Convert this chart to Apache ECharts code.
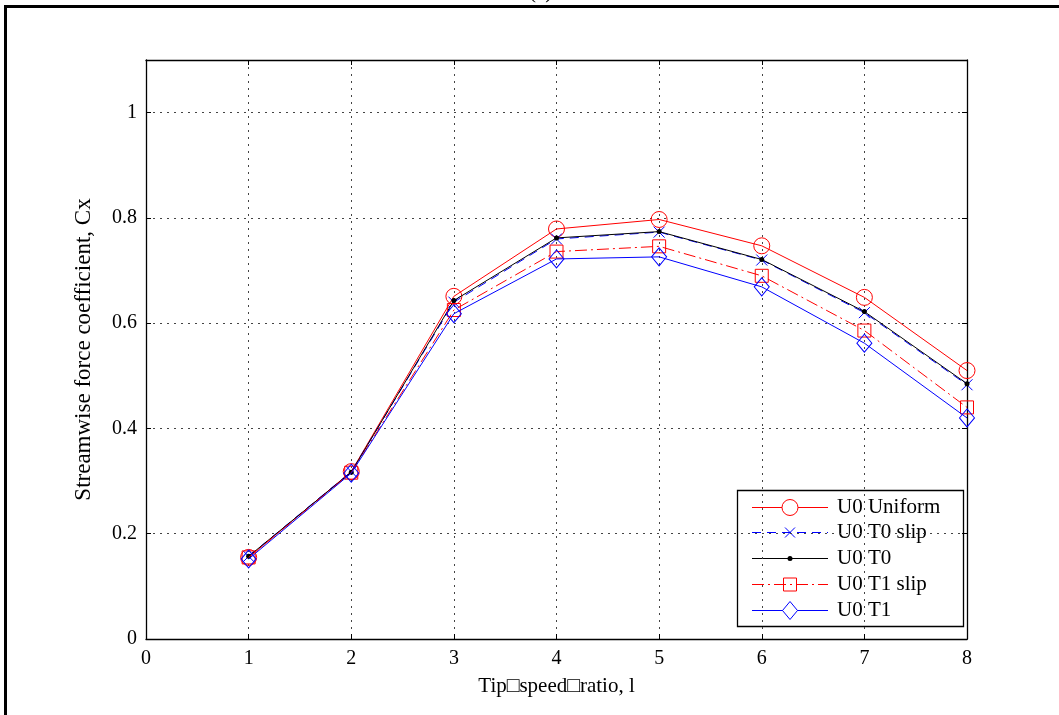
<!DOCTYPE html>
<html>
<head>
<meta charset="utf-8">
<script src="https://cdn.jsdelivr.net/npm/echarts@6/dist/echarts.min.js"></script>
<style>html,body{margin:0;padding:0;background:#fff}#c{width:1059px;height:715px}</style>
</head>
<body>
<div id="c"></div>
<script>
const tsr = [1, 2, 3, 4, 5, 6, 7, 8];
const u0Uniform = [0.155, 0.318, 0.651, 0.779, 0.797, 0.747, 0.649, 0.510];
const u0T0slip  = [0.157, 0.318, 0.640, 0.760, 0.773, 0.720, 0.620, 0.483];
const u0T0      = [0.157, 0.317, 0.643, 0.762, 0.774, 0.721, 0.622, 0.485];
const u0T1slip  = [0.155, 0.316, 0.625, 0.736, 0.746, 0.690, 0.586, 0.440];
const u0T1      = [0.152, 0.315, 0.618, 0.722, 0.726, 0.669, 0.562, 0.420];
const seriesNames = ['U0 Uniform', 'U0 T0 slip', 'U0 T0', 'U0 T1 slip', 'U0 T1'];
const xTicks = [0, 1, 2, 3, 4, 5, 6, 7, 8];
const yTicks = [0, 0.2, 0.4, 0.6, 0.8, 1];
const titleText = '(a)';
const xName = 'Tip\u25A1speed\u25A1ratio, l';
const yName = 'Streamwise force coefficient, Cx';

const FONT = "'Liberation Serif', 'Times New Roman', serif";
const pairs = ys => tsr.map((x, i) => [x, ys[i]]);

const RED = '#ff0000', BLUE = '#0000ff', BLACK = '#000000';
const styles = [
  {color: RED, dash: null, marker: 'circle'},
  {color: BLUE, dash: [9, 6], marker: 'cross'},
  {color: BLACK, dash: null, marker: 'dot'},
  {color: RED, dash: [12, 4, 2, 4], marker: 'square'},
  {color: BLUE, dash: null, marker: 'diamond'}
];

function legendGraphic() {
  const bx = 737, by = 490, bw = 226, bh = 136;
  const children = [{
    type: 'rect', shape: {x: bx + 0.5, y: by + 0.5, width: bw, height: bh},
    style: {fill: '#fff', stroke: '#000', lineWidth: 1.3}
  }];
  const pitch = 25.8, y0 = 506.5, lx0 = 752, lx1 = 828, sx = 790, tx = 837;
  seriesNames.forEach((name, i) => {
    const y = Math.round(y0 + i * pitch) + 0.5;
    const st = styles[i];
    children.push({
      type: 'polyline', shape: {points: [[lx0, y], [lx1, y]]},
      style: {stroke: st.color, fill: null, lineWidth: 1, lineDash: st.dash || null, lineCap: 'butt'}
    });
    if (st.marker === 'circle') {
      children.push({type: 'circle', shape: {cx: sx, cy: y, r: 8},
        style: {fill: '#fff', stroke: st.color, lineWidth: 1}});
    } else if (st.marker === 'cross') {
      children.push({type: 'polyline', shape: {points: [[sx - 5, y - 5], [sx + 5, y + 5]]},
        style: {stroke: st.color, fill: null, lineWidth: 1}});
      children.push({type: 'polyline', shape: {points: [[sx + 5, y - 5], [sx - 5, y + 5]]},
        style: {stroke: st.color, fill: null, lineWidth: 1}});
    } else if (st.marker === 'dot') {
      children.push({type: 'circle', shape: {cx: sx, cy: y, r: 2.5},
        style: {fill: st.color, stroke: null}});
    } else if (st.marker === 'square') {
      children.push({type: 'rect', shape: {x: sx - 6.5, y: y - 6.5, width: 13, height: 13},
        style: {fill: 'rgba(0,0,0,0)', stroke: st.color, lineWidth: 1}});
    } else if (st.marker === 'diamond') {
      children.push({type: 'polygon', shape: {points: [[sx, y - 9], [sx + 7.5, y], [sx, y + 9], [sx - 7.5, y]]},
        style: {fill: '#fff', stroke: st.color, lineWidth: 1}});
    }
    children.push({type: 'text', x: tx, y: y,
      style: {text: name, fill: '#000', font: '21px ' + FONT, verticalAlign: 'middle', align: 'left'}});
  });
  return {type: 'group', z: 50, silent: true, children};
}

const chart = echarts.init(document.getElementById('c'), null, {renderer: 'canvas'});
const axisCommon = {
  min: 0,
  axisLine: {show: true, onZero: false, lineStyle: {color: '#000', width: 1.3}},
  axisTick: {show: true, inside: true, length: 5, lineStyle: {color: '#000'}},
};
const opt = {
  animation: false,
  backgroundColor: '#fff',
  title: {
    text: titleText, left: 524, top: -23,
    textStyle: {fontFamily: FONT, fontSize: 21, fontWeight: 'normal', color: '#000'}
  },
  grid: {left: 146, right: 92, top: 60, bottom: 76, containLabel: false},
  xAxis: [
    Object.assign({}, axisCommon, {
      type: 'value', max: 8, interval: 1, position: 'bottom',
      name: xName, nameLocation: 'middle', nameGap: 37,
      nameTextStyle: {fontFamily: FONT, fontSize: 21, color: '#000'},
      axisLabel: {margin: 10, fontFamily: FONT, fontSize: 20, color: '#000',
        formatter: v => xTicks.includes(v) ? String(v) : ''},
      splitLine: {show: true, lineStyle: {color: '#444', type: [2, 5], width: 1}}
    }),
    Object.assign({}, axisCommon, {
      type: 'value', max: 8, interval: 1, position: 'top',
      axisLabel: {show: false}, splitLine: {show: false}
    })
  ],
  yAxis: [
    Object.assign({}, axisCommon, {
      type: 'value', max: 1.1, interval: 0.2, position: 'left',
      name: yName, nameLocation: 'middle', nameGap: 51, nameRotate: 90,
      nameTextStyle: {fontFamily: FONT, fontSize: 23, color: '#000'},
      axisLabel: {margin: 9, fontFamily: FONT, fontSize: 20, color: '#000',
        formatter: v => {
          const t = yTicks.find(k => Math.abs(k - v) < 1e-6);
          return t === undefined ? '' : String(t);
        }},
      splitLine: {show: true, lineStyle: {color: '#444', type: [2, 5], width: 1}}
    }),
    Object.assign({}, axisCommon, {
      type: 'value', max: 1.1, interval: 0.2, position: 'right',
      axisLabel: {show: false}, splitLine: {show: false}
    })
  ],
  series: [
    {
      name: seriesNames[0], type: 'line', data: pairs(u0Uniform),
      symbol: 'circle', symbolSize: 16,
      lineStyle: {color: RED, width: 1},
      itemStyle: {color: 'rgba(255,255,255,0)', borderColor: RED, borderWidth: 1},
      z: 2
    },
    {
      name: seriesNames[1], type: 'line', data: pairs(u0T0slip),
      symbol: 'path://M0,0L10,10M10,0L0,10', symbolSize: 11,
      lineStyle: {color: BLUE, width: 1, type: [9, 6]},
      itemStyle: {color: 'rgba(0,0,0,0)', borderColor: BLUE, borderWidth: 1},
      z: 3
    },
    {
      name: seriesNames[2], type: 'line', data: pairs(u0T0),
      symbol: 'circle', symbolSize: 5,
      lineStyle: {color: BLACK, width: 1},
      itemStyle: {color: BLACK, borderColor: BLACK, borderWidth: 0},
      z: 4
    },
    {
      name: seriesNames[3], type: 'line', data: pairs(u0T1slip),
      symbol: 'rect', symbolSize: 13,
      lineStyle: {color: RED, width: 1, type: [12, 4, 2, 4]},
      itemStyle: {color: 'rgba(255,255,255,0)', borderColor: RED, borderWidth: 1},
      z: 5
    },
    {
      name: seriesNames[4], type: 'line', data: pairs(u0T1),
      symbol: 'diamond', symbolSize: [15, 18],
      lineStyle: {color: BLUE, width: 1},
      itemStyle: {color: 'rgba(255,255,255,0)', borderColor: BLUE, borderWidth: 1},
      z: 6
    }
  ],
  graphic: [legendGraphic(), {
    type: 'rect', silent: true, z: 100,
    shape: {x: 5.5, y: 6.5, width: 1100, height: 800},
    style: {fill: 'none', stroke: '#000', lineWidth: 3}
  }]
};
chart.setOption(opt);
</script>
</body>
</html>
